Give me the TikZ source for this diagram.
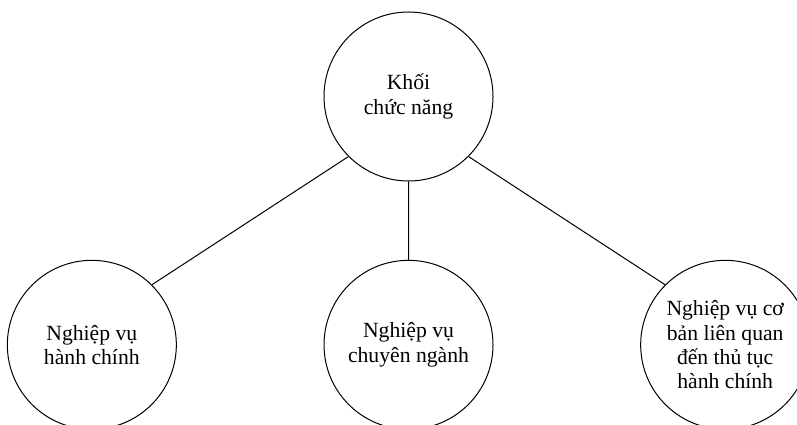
\documentclass[tikz,border=0pt]{standalone}
\usepackage{fontspec}
\setmainfont{Liberation Serif}
\usetikzlibrary{positioning}

\begin{document}
\begin{tikzpicture}[node distance=149pt and 190pt,on grid,line width=0.6pt,
		block/.style={circle,draw,minimum size=101.4pt,inner sep=0pt,align=center,font=\fontsize{13}{14.6}\selectfont}]
			\clip (0,0) rectangle (478.2pt,254.4pt);
			\node[block] (khoi) at (245.1pt,196.5pt)	{Khối\\chức năng};
			\node[block] (chuyen) [below=of khoi]		{Nghiệp vụ\\chuyên ngành};
			\node[block] (hanh) [left=of chuyen]		{Nghiệp vụ\\hành chính};
			\node[block] (coban) [right=of chuyen]		{Nghiệp vụ cơ\\bản liên quan\\đến thủ tục\\hành chính};
			\draw (khoi.south west) -- (hanh.north east)
				  (khoi.south) -- (chuyen.north)
				  (khoi.south east) -- (coban.north west);
	\end{tikzpicture}
\end{document}
